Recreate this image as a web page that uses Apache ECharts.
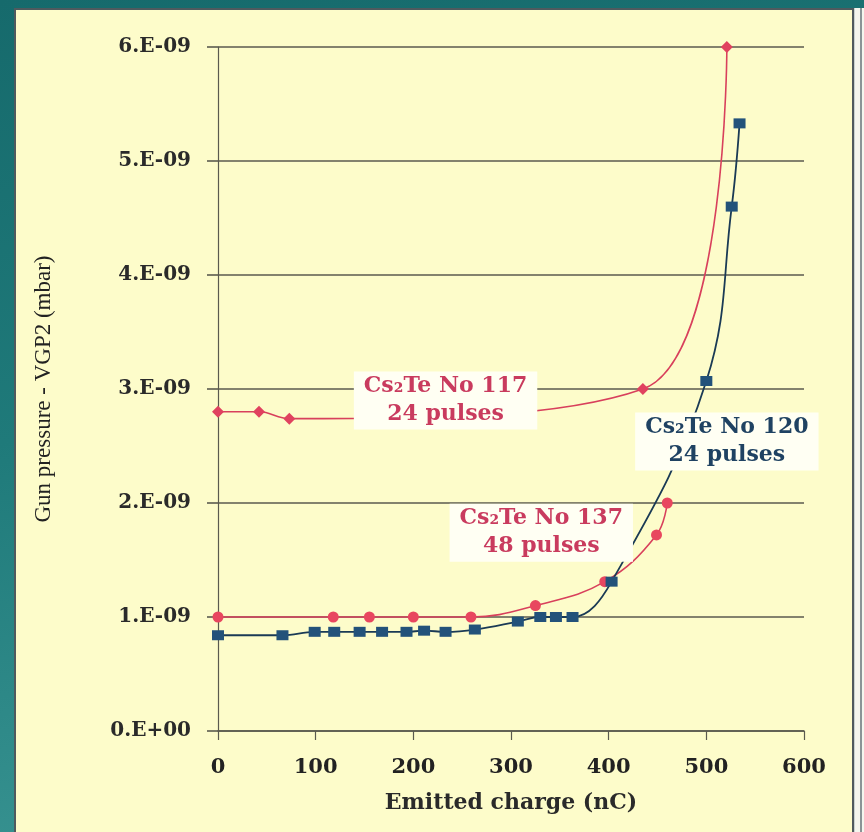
<!DOCTYPE html>
<html>
<head>
<meta charset="utf-8">
<script src="https://cdn.jsdelivr.net/npm/echarts@6/dist/echarts.min.js"></script>
<style>
  html, body { margin: 0; padding: 0; }
  body {
    width: 864px; height: 832px; overflow: hidden; position: relative;
    background: linear-gradient(170deg, #166a6c 0%, #1f7a7a 45%, #3d9896 100%);
  }
  #panel {
    position: absolute; left: 14px; top: 8px; width: 836px; height: 830px;
    background: #fdfcca; border: 2px solid #4f5a5e; box-sizing: content-box;
  }
  #edge {
    position: absolute; left: 854px; top: 8px; width: 10px; height: 824px;
    background: #f4f6ee; border-left: 1px solid #c9d2d0;
  }
  #edge::after {
    content: ""; position: absolute; left: 5px; top: 0; width: 2px; height: 100%;
    background: #8a9496;
  }
  #chart { position: absolute; left: 0; top: 0; width: 864px; height: 832px; }
</style>
</head>
<body>
<div id="panel"></div>
<div id="edge"></div>
<div id="chart"></div>
<script>
// Gun pressure (mbar) versus emitted charge (nC) for three Cs2Te cathodes
const cathode117Charge = [0, 42, 73, 435, 521];
const cathode117Pressure = [2.8e-9, 2.8e-9, 2.74e-9, 3.0e-9, 6.0e-9];

const cathode137Charge = [0, 118, 155, 200, 259, 325, 396, 449, 460];
const cathode137Pressure = [1.0e-9, 1.0e-9, 1.0e-9, 1.0e-9, 1.0e-9, 1.1e-9, 1.31e-9, 1.72e-9, 2.0e-9];

const cathode120Charge = [0, 66, 99, 119, 145, 168, 193, 211, 233, 263, 307, 330, 346, 363, 403, 500, 526, 534];
const cathode120Pressure = [0.84e-9, 0.84e-9, 0.87e-9, 0.87e-9, 0.87e-9, 0.87e-9, 0.87e-9, 0.88e-9, 0.87e-9, 0.89e-9, 0.96e-9, 1.0e-9, 1.0e-9, 1.0e-9, 1.31e-9, 3.07e-9, 4.6e-9, 5.33e-9];

const xTickValues = [0, 100, 200, 300, 400, 500, 600];
const yTickLabels = ['0.E+00', '1.E-09', '2.E-09', '3.E-09', '4.E-09', '5.E-09', '6.E-09'];

const seriesLabels = [
  { text: 'Cs\u2082Te No 117\n24 pulses', color: '#c93b5e' },
  { text: 'Cs\u2082Te No 120\n24 pulses', color: '#1f4262' },
  { text: 'Cs\u2082Te No 137\n48 pulses', color: '#c93b5e' }
];

const pairs = (xs, ys) => xs.map((x, i) => [x, ys[i]]);

const serifBold = '"DejaVu Serif", "Liberation Serif", serif';
const gridColor = '#5a5a4e';

const chart = echarts.init(document.getElementById('chart'), null, { renderer: 'canvas' });

const option = {
  backgroundColor: 'transparent',
  animation: false,
  grid: { left: 218, right: 60, top: 47, bottom: 101, containLabel: false },
  xAxis: {
    type: 'value',
    min: 0, max: 600, interval: 100,
    name: 'Emitted charge (nC)',
    nameLocation: 'middle',
    nameGap: 61,
    nameTextStyle: { fontFamily: serifBold, fontWeight: 'bold', fontSize: 22, color: '#2a2a2a', verticalAlign: 'top' },
    axisLine: { show: true, lineStyle: { color: gridColor, width: 1.6 } },
    axisTick: { show: true, inside: false, length: 9, lineStyle: { color: gridColor, width: 1.2 } },
    splitLine: { show: false },
    axisLabel: {
      margin: 26,
      fontFamily: serifBold, fontWeight: 'bold', fontSize: 21, color: '#222',
      verticalAlign: 'top',
      formatter: v => (xTickValues.indexOf(v) >= 0 ? String(v) : '')
    }
  },
  yAxis: {
    type: 'value',
    min: 0, max: 6e-9, interval: 1e-9,
    name: 'Gun pressure - VGP2 (mbar)',
    nameLocation: 'middle',
    nameRotate: 90,
    nameGap: 163,
    nameTextStyle: { fontFamily: '"Liberation Serif", "Times New Roman", serif', fontSize: 23, color: '#222' },
    axisLine: { show: true, lineStyle: { color: gridColor, width: 1.2 } },
    axisTick: { show: true, inside: false, length: 11, lineStyle: { color: gridColor, width: 1.6 } },
    splitLine: { show: true, lineStyle: { color: gridColor, width: 1.6 } },
    axisLabel: {
      margin: 27,
      fontFamily: serifBold, fontWeight: 'bold', fontSize: 20, color: '#2a2a2a',
      formatter: v => yTickLabels[Math.round(v / 1e-9)] || ''
    }
  },
  series: [
    {
      name: 'Cs2Te No 117',
      type: 'line',
      smooth: 0.4,
      data: pairs(cathode117Charge, cathode117Pressure),
      symbol: 'diamond',
      symbolSize: 12,
      itemStyle: { color: '#e0425f' },
      lineStyle: { color: '#d8405c', width: 1.6 },
      z: 3
    },
    {
      name: 'Cs2Te No 137',
      type: 'line',
      smooth: 0.4,
      data: pairs(cathode137Charge, cathode137Pressure),
      symbol: 'circle',
      symbolSize: 11,
      itemStyle: { color: '#e8475f' },
      lineStyle: { color: '#d8405c', width: 1.6 },
      z: 4
    },
    {
      name: 'Cs2Te No 120',
      type: 'line',
      smooth: 0.4,
      data: pairs(cathode120Charge, cathode120Pressure),
      symbol: 'rect',
      symbolSize: [12, 10],
      itemStyle: { color: '#23527a' },
      lineStyle: { color: '#1a3a55', width: 1.8 },
      z: 5
    }
  ]
};

chart.setOption(option);

// Series captions on pale boxes, anchored to a point of each curve
const captionAnchors = [
  { label: seriesLabels[0], at: [233, 2.9e-9] },
  { label: seriesLabels[1], at: [521, 2.54e-9] },
  { label: seriesLabels[2], at: [331, 1.74e-9] }
];
chart.setOption({
  graphic: captionAnchors.map(c => {
    const p = chart.convertToPixel({ gridIndex: 0 }, c.at);
    return {
      type: 'text',
      z: 100,
      x: p[0], y: p[1],
      style: {
        text: c.label.text,
        fill: c.label.color,
        font: 'bold 22px ' + serifBold,
        align: 'center',
        verticalAlign: 'middle',
        lineHeight: 28,
        backgroundColor: '#fffff3',
        padding: [1, 10, 1, 10]
      }
    };
  })
});
</script>
</body>
</html>
